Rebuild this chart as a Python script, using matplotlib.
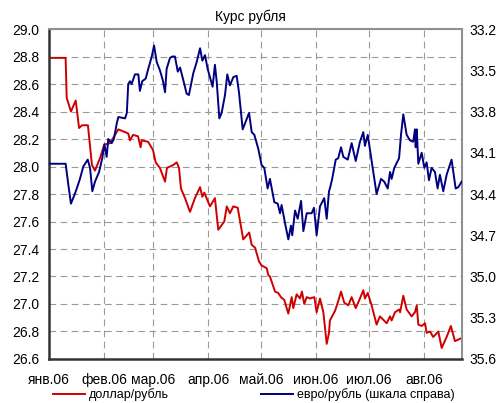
import pandas as pd
import numpy as np
import matplotlib
matplotlib.use('Agg')
import matplotlib.pyplot as plt
from matplotlib.ticker import FormatStrFormatter
from matplotlib.lines import Line2D

plt.rcParams['font.family'] = ['Liberation Sans', 'DejaVu Sans']
plt.rcParams['font.size'] = 10

# days since 2006-01-01 and rates
usd_day = [0.6, 9.4, 10.0, 12.4, 15.1, 17.0, 18.7, 22.0, 24.3, 26.0, 28.8, 31.3, 34.5,
           39.2, 43.0, 44.8, 45.8, 47.5, 50.3, 51.8, 52.4, 56.0, 58.8, 60.3, 62.7,
           65.6, 66.7, 70.1, 72.2, 73.5, 74.6, 76.9, 79.7, 82.5, 85.4, 86.7, 87.8,
           91.0, 93.8, 95.7, 99.1, 100.5, 102.3, 104.2, 106.7, 109.8, 113.2, 114.6,
           116.5, 118.7, 120.2, 123.1, 124.0, 124.9, 127.8, 129.6, 131.1, 133.0,
           135.3, 137.2, 138.1, 140.0, 141.9, 143.0, 144.3, 145.7, 147.5, 150.0,
           151.3, 153.2, 155.1, 157.0, 158.3, 158.8, 161.7, 163.5, 165.1, 166.9,
           169.2, 171.1, 173.4, 175.8, 177.7, 178.6, 180.2, 182.4, 185.2, 187.1,
           190.9, 192.8, 193.7, 195.6, 197.9, 198.5, 200.3, 202.2, 205.0, 206.9,
           207.9, 208.8, 210.7, 212.6, 213.5, 215.4, 217.2, 220.1, 222.0, 224.8,
           227.2, 229.5, 232.9]
usd_rate = [28.79, 28.79, 28.50, 28.40, 28.48, 28.28, 28.30, 28.30, 28.01, 27.97, 28.06, 28.16, 28.17,
            28.27, 28.25, 28.24, 28.19, 28.23, 28.22, 28.14, 28.19, 28.18, 28.12, 28.03, 27.99,
            27.89, 27.99, 28.01, 28.03, 27.99, 27.84, 27.77, 27.67, 27.77, 27.85, 27.78, 27.81,
            27.71, 27.77, 27.54, 27.60, 27.71, 27.66, 27.71, 27.70, 27.47, 27.52, 27.43,
            27.41, 27.31, 27.28, 27.26, 27.21, 27.20, 27.09, 27.08, 27.05, 27.03,
            26.93, 27.05, 26.97, 27.07, 27.04, 27.09, 27.00, 27.05, 27.04, 27.05,
            26.94, 27.04, 26.94, 26.71, 26.79, 26.88, 26.95, 27.02, 27.09, 27.01,
            26.99, 27.05, 26.97, 27.04, 27.10, 27.04, 27.08, 26.99, 26.85, 26.91,
            26.86, 26.91, 26.88, 26.94, 26.96, 26.94, 27.06, 26.96, 26.91, 26.94,
            26.99, 26.85, 26.84, 26.86, 26.79, 26.80, 26.76, 26.80, 26.68, 26.76,
            26.84, 26.73, 26.75]

eur_day = [0.6, 9.4, 10.9, 12.4, 14.3, 15.7, 17.5, 19.4, 21.9, 23.2, 24.5, 26.0, 28.3,
           30.1, 31.3, 32.6, 33.5, 35.4, 36.7, 38.4, 39.2, 43.0, 44.0, 44.8, 45.8,
           46.7, 48.6, 50.5, 51.4, 52.7, 54.7, 56.1, 58.1, 59.4, 60.9, 62.7, 64.3,
           65.6, 66.5, 68.4, 69.7, 71.2, 72.8, 74.1, 75.9, 77.8, 79.1, 81.6, 83.5,
           85.4, 86.7, 88.2, 89.7, 92.5, 93.8, 94.8, 96.3, 97.6, 99.5, 100.8, 102.3,
           104.2, 106.1, 107.4, 109.5, 113.1, 114.6, 116.1, 118.3, 120.2, 121.7,
           123.6, 124.9, 127.4, 129.3, 130.6, 131.5, 133.4, 135.3, 136.8, 137.5,
           139.1, 140.6, 142.5, 143.8, 145.7, 148.5, 149.8, 151.3, 153.2, 155.6,
           157.0, 158.3, 158.8, 160.1, 162.1, 163.5, 165.1, 166.4, 168.9, 171.1,
           173.4, 175.8, 177.7, 178.6, 180.2, 182.4, 185.2, 187.7, 189.5, 191.5,
           192.8, 193.7, 195.2, 197.9, 199.0, 200.3, 202.2, 204.1, 205.9, 206.9,
           207.3, 207.9, 208.8, 210.7, 212.2, 213.5, 214.8, 216.3, 218.2, 219.7,
           221.0, 222.9, 224.8, 227.6, 229.9, 231.4, 233.3]
eur_rate = [34.18, 34.18, 34.33, 34.47, 34.41, 34.36, 34.29, 34.20, 34.15, 34.21, 34.38, 34.31, 34.24,
            34.14, 34.04, 34.13, 34.00, 34.03, 34.00, 33.88, 33.84, 33.85, 33.81, 33.60, 33.58,
            33.60, 33.53, 33.53, 33.65, 33.58, 33.56, 33.49, 33.40, 33.32, 33.44, 33.50, 33.57,
            33.66, 33.49, 33.41, 33.40, 33.40, 33.51, 33.48, 33.57, 33.67, 33.68, 33.52, 33.44,
            33.34, 33.43, 33.39, 33.49, 33.62, 33.46, 33.58, 33.85, 33.81, 33.68, 33.53, 33.61,
            33.55, 33.54, 33.66, 33.93, 33.81, 33.95, 33.97, 34.07, 34.19, 34.21,
            34.36, 34.29, 34.46, 34.47, 34.54, 34.48, 34.61, 34.73, 34.63, 34.70,
            34.52, 34.58, 34.45, 34.67, 34.54, 34.54, 34.50, 34.70, 34.49, 34.43,
            34.58, 34.38, 34.36, 34.29, 34.15, 34.14, 34.06, 34.13, 34.15, 34.03,
            34.16, 34.02, 33.95, 34.05, 33.97, 34.16, 34.40, 34.29, 34.31, 34.36,
            34.24, 34.29, 34.21, 34.14, 33.97, 33.82, 33.97, 34.01, 34.02, 33.93,
            34.06, 33.93, 34.18, 34.10, 34.21, 34.17, 34.30, 34.21, 34.24, 34.36,
            34.26, 34.38, 34.26, 34.15, 34.36, 34.35, 34.31]

month_labels = ['янв.06', 'фев.06', 'мар.06', 'апр.06', 'май.06', 'июн.06', 'июл.06', 'авг.06']

start = pd.Timestamp('2006-01-01')
usd_x = start + pd.to_timedelta(usd_day, unit='D')
eur_x = start + pd.to_timedelta(eur_day, unit='D')
months = pd.date_range('2006-01-01', periods=8, freq='MS')

fig = plt.figure(figsize=(5.01, 4.03), dpi=100)
ax = fig.add_axes([0.0978, 0.1092, 0.8244, 0.8188])
ax2 = ax.twinx()

ax.plot(usd_x, usd_rate, color='#D00000', lw=1.4)
ax2.plot(eur_x, eur_rate, color='#000080', lw=1.4)

ax.set_xlim(start, start + pd.Timedelta(days=233.5))
ax.set_ylim(26.6, 29.0)
ax.set_yticks(np.arange(26.6, 29.01, 0.2))
ax.yaxis.set_major_formatter(FormatStrFormatter('%.1f'))
ax.set_xticks(months)
ax.set_xticklabels(month_labels)

ax2.set_ylim(35.6, 33.2)
ax2.set_yticks(np.arange(33.2, 35.61, 0.3))
ax2.yaxis.set_major_formatter(FormatStrFormatter('%.1f'))

ax.grid(True, color='#999999', linestyle=(0, (6, 4)), lw=0.8)
ax.tick_params(axis='both', length=0, labelsize=10, colors='black')
ax.tick_params(axis='x', pad=10)
ax.tick_params(axis='y', pad=7)
ax2.tick_params(axis='y', length=0, labelsize=10, pad=5)

for s in ['top', 'right']:
    ax.spines[s].set_color('#909090')
    ax.spines[s].set_linewidth(1.5)
for s in ['left', 'bottom']:
    ax.spines[s].set_color('#333333')
    ax.spines[s].set_linewidth(1.8)
for s in ax2.spines.values():
    s.set_visible(False)

fig.text(0.5, 0.958, 'Курс рубля', ha='center', va='center', fontsize=10)

fig.legend(handles=[Line2D([], [], color='#D00000', lw=1.4)], labels=['доллар/рубль'],
           loc='center left', bbox_to_anchor=(0.105, 0.02), frameon=False, fontsize=9,
           handlelength=2.6, handletextpad=0.3, borderpad=0, borderaxespad=0)
fig.legend(handles=[Line2D([], [], color='#000080', lw=1.4)], labels=['евро/рубль (шкала справа)'],
           loc='center left', bbox_to_anchor=(0.52, 0.02), frameon=False, fontsize=9,
           handlelength=2.6, handletextpad=0.3, borderpad=0, borderaxespad=0)

fig.savefig('out.png', dpi=100)
